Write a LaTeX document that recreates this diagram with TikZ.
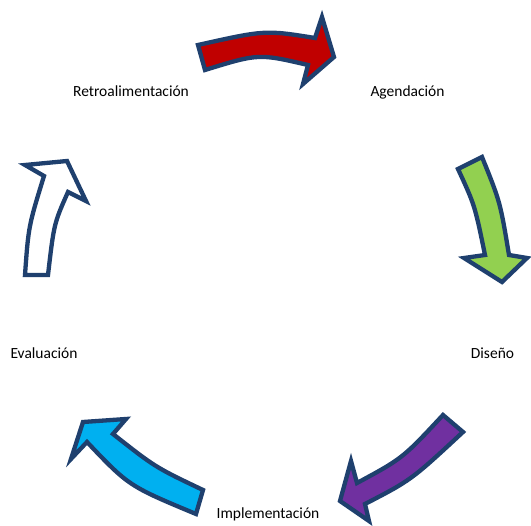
\documentclass[tikz,border=0pt]{standalone}
\usepackage{fontspec}
\setmainfont{Carlito}
\definecolor{outl}{RGB}{31,64,110}
\definecolor{cred}{RGB}{192,0,0}
\definecolor{cgreen}{RGB}{146,208,80}
\definecolor{cpurple}{RGB}{112,48,160}
\definecolor{ccyan}{RGB}{0,176,240}
\begin{document}
\begin{tikzpicture}[x=1pt,y=-1pt,
  arrowshape/.style={draw=outl,line width=4.3pt,line join=miter,miter limit=10},
  lbl/.style={anchor=base,inner sep=0pt,font=\fontsize{15.5}{18}\selectfont}]
\useasboundingbox (0,0) rectangle (531,526);
% red arrow
\path[arrowshape,fill=cred] (198,45) -- (205,70) .. controls (258.5,53.5) .. (308,65)
  -- (303,84) -- (334,57) -- (322,17) -- (315,38) .. controls (265.2,30) .. (198,45) -- cycle;
% green arrow
\path[arrowshape,fill=cgreen] (458,169) -- (482,157) .. controls (500.2,202) .. (509,255)
  -- (527,258) -- (502,282) -- (464,258) -- (485,255) .. controls (474.8,205.3) .. (458,169) -- cycle;
% purple arrow
\path[arrowshape,fill=cpurple] (443,415) -- (463,432) .. controls (411.3,480) .. (365,504)
  -- (369,521) -- (340,501) -- (351,461) -- (357,483) .. controls (402.7,458.3) .. (443,415) -- cycle;
% cyan arrow
\path[arrowshape,fill=ccyan] (196,514) -- (203,490) .. controls (155.3,467.3) .. (113,434)
  -- (126,419) -- (83,422) -- (71,459) -- (87,442) .. controls (128.8,486) .. (196,514) -- cycle;
% white arrow
\path[arrowshape,fill=white] (25,275) -- (48,275) .. controls (54,223.5) .. (68,192)
  -- (86,201) -- (67,161) -- (25,165) -- (44,176) .. controls (28.5,226.2) .. (25,275) -- cycle;
% labels
\node[lbl] (retro) at (131,96.5) {Retroalimentación};
\node[lbl] (agen) at (407.5,96.5) {Agendación};
\node[lbl] (eval) at (44,358.5) {Evaluación};
\node[lbl] (dis) at (492.5,358.5) {Diseño};
\node[lbl] (impl) at (268,519) {Implementación};
\end{tikzpicture}
\end{document}
